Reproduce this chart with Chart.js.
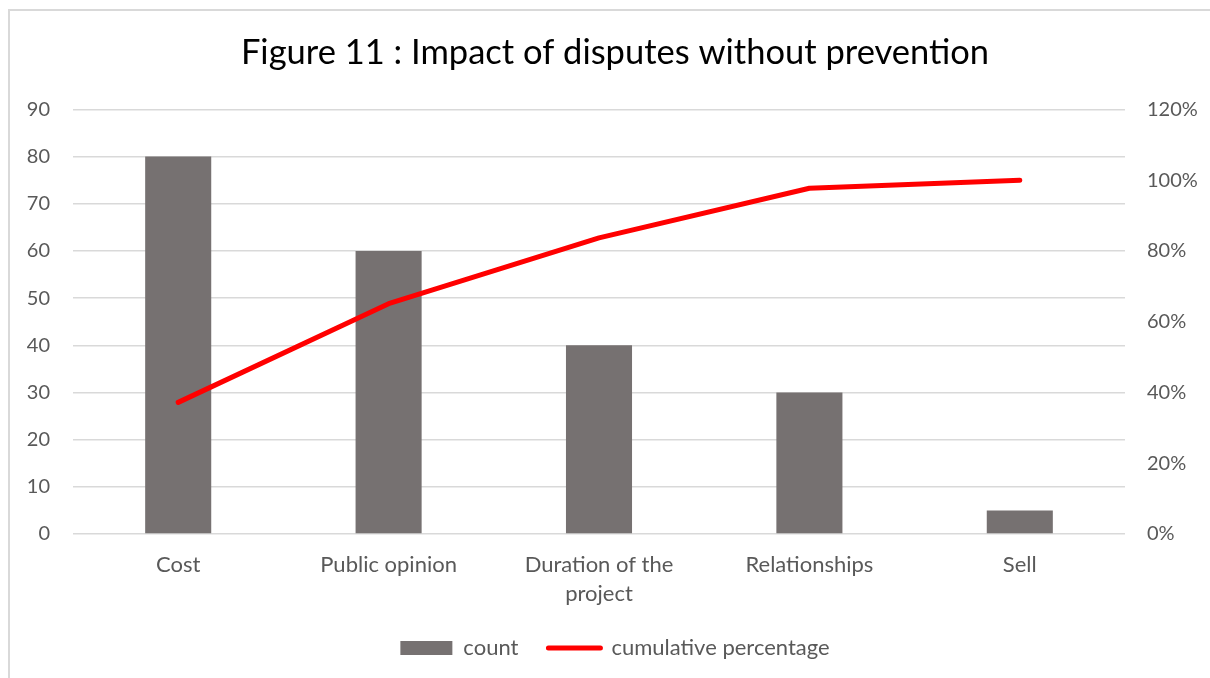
<!DOCTYPE html>
<html>
<head>
<meta charset="utf-8">
<script src="https://cdn.jsdelivr.net/npm/chart.js@4.4.1/dist/chart.umd.min.js"></script>
<style>
  html, body { margin: 0; padding: 0; background: #fff; overflow: hidden; }
  #wrap { position: relative; width: 1210px; height: 678px; }
  #frame {
    position: absolute; left: 8px; top: 9px; width: 1300px; height: 800px;
    border-left: 2px solid #d9d9d9; border-top: 2px solid #d9d9d9;
    pointer-events: none;
  }
  canvas { position: absolute; left: 0; top: 0; }
</style>
</head>
<body>
<div id="wrap">
  <canvas id="pareto" width="1210" height="678"></canvas>
  <div id="frame"></div>
</div>
<script>
// ── data ──────────────────────────────
const categories = ['Cost', 'Public opinion', ['Duration of the', 'project'], 'Relationships', 'Sell'];
const counts = [80, 60, 40, 30, 5];
const cumulativePct = [37.2, 65.1, 83.7, 97.7, 100];
const countTicks = [0, 10, 20, 30, 40, 50, 60, 70, 80, 90];
const pctTicks = [0, 20, 40, 60, 80, 100, 120];

const FONT = 'Lato, "Open Sans", sans-serif';
const TEXT = '#595959';
const GRID = '#d9d9d9';

new Chart(document.getElementById('pareto'), {
    data: {
        labels: categories,
        datasets: [
            {
                type: 'bar',
                label: 'count',
                data: counts,
                yAxisID: 'y',
                backgroundColor: '#767171',
                barPercentage: 0.314,
                categoryPercentage: 1,
                order: 2,
            },
            {
                type: 'line',
                label: 'cumulative percentage',
                data: cumulativePct,
                yAxisID: 'y1',
                borderColor: '#ff0000',
                backgroundColor: '#ff0000',
                borderWidth: 5,
                borderCapStyle: 'round',
                borderJoinStyle: 'round',
                pointRadius: 0,
                tension: 0,
                order: 1,
            },
        ],
    },
    options: {
        responsive: false,
        animation: false,
        layout: { padding: { left: 20, right: 0, top: 0, bottom: 9 } },
        plugins: {
            tooltip: { enabled: false },
            title: {
                display: true,
                text: 'Figure 11 : Impact of disputes without prevention',
                color: '#000',
                font: { family: FONT, size: 34.5, weight: 'normal' },
                padding: { top: 32, bottom: 36 },
            },
            legend: {
                position: 'bottom',
                labels: {
                    color: TEXT,
                    font: { family: FONT, size: 22 },
                    usePointStyle: true,
                    pointStyleWidth: 52,
                    boxHeight: 14,
                    padding: 30,
                    generateLabels(chart) {
                        return chart.data.datasets.map((ds, i) => ({
                            text: ds.label,
                            datasetIndex: i,
                            fillStyle: ds.type === 'bar' ? ds.backgroundColor : 'transparent',
                            strokeStyle: ds.type === 'bar' ? 'transparent' : ds.borderColor,
                            lineWidth: ds.type === 'bar' ? 0 : 5,
                            lineCap: 'round',
                            pointStyle: ds.type === 'bar' ? 'rect' : 'line',
                            fontColor: TEXT,
                            hidden: false,
                        }));
                    },
                },
            },
        },
        scales: {
            x: {
                afterFit(axis) { axis.height = 73; },
                grid: { display: false, drawTicks: false },
                border: { display: false },
                ticks: {
                    color: TEXT,
                    font: { family: FONT, size: 22, lineHeight: 1.32 },
                    padding: 16,
                    maxRotation: 0,
                    autoSkip: false,
                },
            },
            y: {
                position: 'left',
                min: 0,
                max: 90,
                afterBuildTicks(axis) { axis.ticks = countTicks.map(v => ({ value: v })); },
                afterFit(axis) { axis.width = 53; },
                grid: { color: GRID, lineWidth: 1.5, drawTicks: false },
                border: { display: false },
                ticks: {
                    color: TEXT,
                    font: { family: FONT, size: 20 },
                    padding: 23,
                },
            },
            y1: {
                position: 'right',
                min: 0,
                max: 120,
                afterBuildTicks(axis) { axis.ticks = pctTicks.map(v => ({ value: v })); },
                afterFit(axis) { axis.width = 85; },
                grid: { display: false, drawTicks: false },
                border: { display: false },
                ticks: {
                    color: TEXT,
                    font: { family: FONT, size: 20 },
                    padding: 22,
                    callback: v => v + '%',
                },
            },
        },
    },
});
</script>
</body>
</html>
